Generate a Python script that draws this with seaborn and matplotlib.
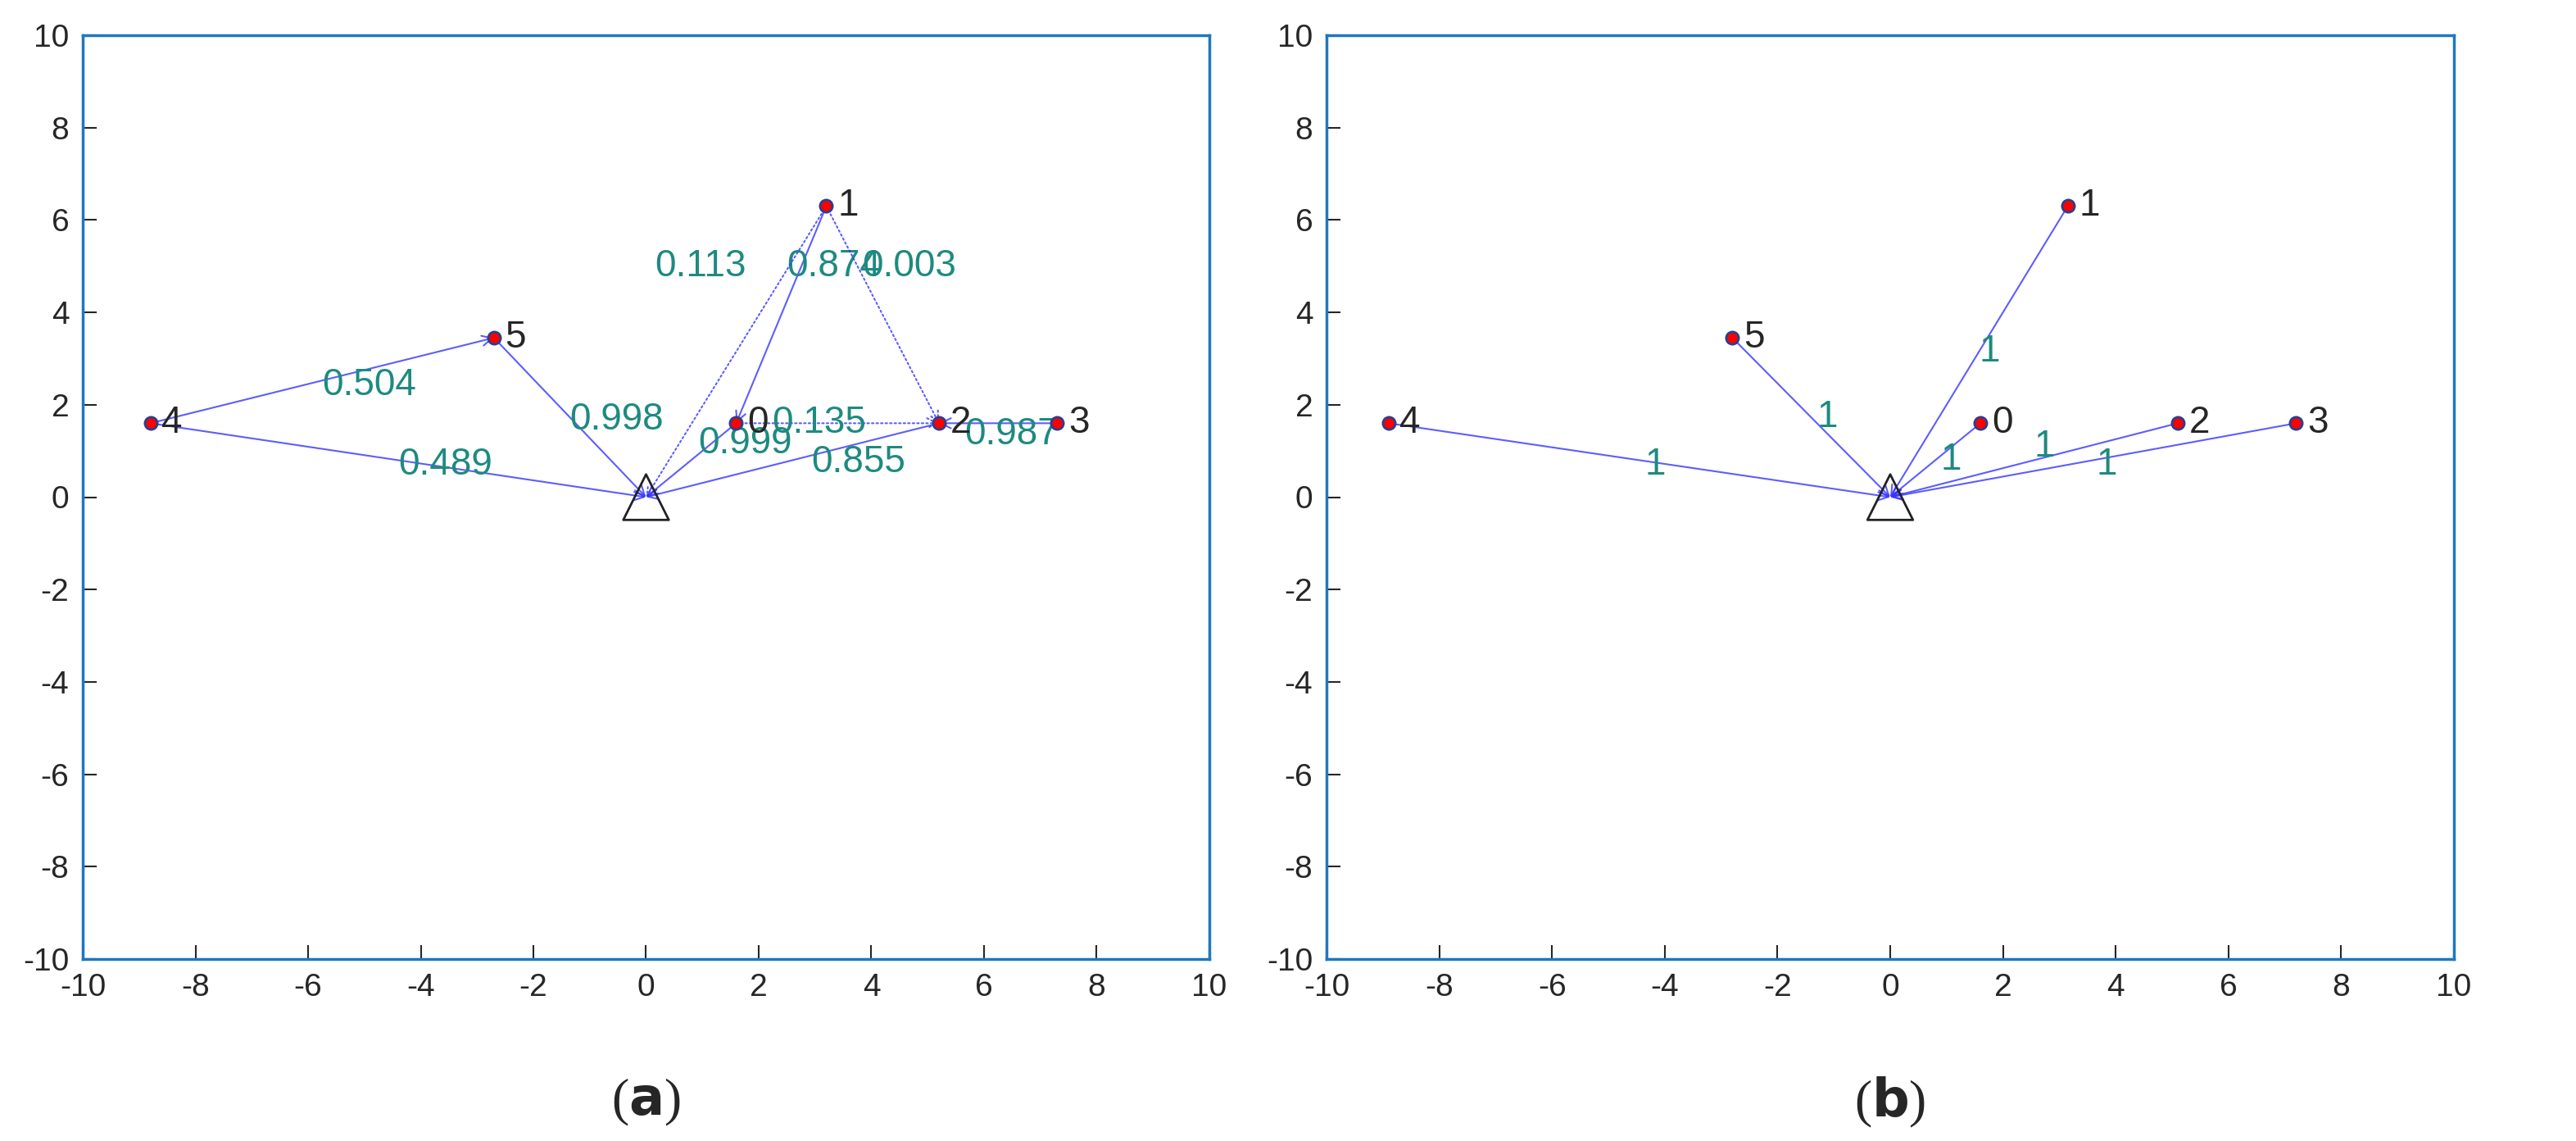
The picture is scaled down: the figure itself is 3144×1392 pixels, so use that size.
import matplotlib
matplotlib.use("Agg")
import matplotlib.pyplot as plt
import pandas as pd
import seaborn as sns

sns.set_style("ticks")
plt.rcParams['font.family'] = ['Liberation Sans', 'DejaVu Sans']
plt.rcParams['axes.unicode_minus'] = False

# node positions, panel (a) and panel (b)
node_ids = [0, 1, 2, 3, 4, 5]
x_a = [1.6, 3.2, 5.2, 7.3, -8.8, -2.7]
y_a = [1.6, 6.3, 1.6, 1.6, 1.6, 3.45]
x_b = [1.6, 3.15, 5.1, 7.2, -8.9, -2.8]
y_b = [1.6, 6.3, 1.6, 1.6, 1.6, 3.45]

# edges: source, target ('s' = sink), weight label, dotted?
src_a = [4, 4, 5, 0, 1, 2, 3, 1, 1, 0]
dst_a = [5, 's', 's', 's', 0, 's', 2, 's', 2, 2]
lab_a = ['0.504', '0.489', '0.998', '0.999', '0.874', '0.855', '0.987', '0.113', '0.003', '0.135']
dot_a = [False, False, False, False, False, False, False, True, True, True]
# label nudges from the edge midpoint (layout only)
off_a = [(0, -0.1), (0, -0.1), (0, -0.05), (0.13, 0.37), (0.1, 1.05),
         (0.33, -0.05), (-0.6, -0.25), (-1.44, 1.85), (-0.37, 1.05), (-1.17, 0)]

src_b = [4, 5, 1, 0, 2, 3]
dst_b = ['s', 's', 's', 's', 's', 's']
lab_b = ['1', '1', '1', '1', '1', '1']
dot_b = [False] * 6
off_b = [(0.1, -0.1), (0.1, 0), (0, 0), (0.1, 0), (0, 0.3), (0.05, -0.1)]

ticks = list(range(-10, 11, 2))
edge_col = '#3535ff'
text_col = '#1e8a80'
spine_col = '#1f77c0'


def draw_panel(ax, xs, ys, src, dst, labs, dots, offs, caption):
    pos = {n: (x, y) for n, x, y in zip(node_ids, xs, ys)}
    pos['s'] = (0.0, 0.0)
    for s, d, lab, dotted, (dx, dy) in zip(src, dst, labs, dots, offs):
        (x0, y0), (x1, y1) = pos[s], pos[d]
        ax.annotate('', xy=(x1, y1), xytext=(x0, y0),
                    arrowprops=dict(arrowstyle='->', color=edge_col, lw=1.5,
                                    alpha=0.8, mutation_scale=22,
                                    linestyle=':' if dotted else '-',
                                    shrinkA=0, shrinkB=0))
        ax.text((x0 + x1) / 2 + dx, (y0 + y1) / 2 + dy, lab, color=text_col,
                fontsize=33, ha='left', va='center')
    df = pd.DataFrame({'x': xs, 'y': ys, 'id': node_ids})
    sns.scatterplot(data=df, x='x', y='y', ax=ax, color='red', s=120,
                    edgecolor='#2a3f8f', linewidth=2, zorder=5)
    for _, r in df.iterrows():
        ax.text(r.x + 0.2, r.y, str(int(r.id)), fontsize=33, va='center', ha='left')
    ax.scatter([0], [0], marker='^', s=1600, facecolor='none',
               edgecolor='#222222', linewidth=2, zorder=6)
    ax.set_xlim(-10, 10)
    ax.set_ylim(-10, 10)
    ax.set_xticks(ticks)
    ax.set_yticks(ticks)
    ax.tick_params(direction='in', length=12, width=1.5, labelsize=28,
                   labelcolor='#262626', top=False, right=False, pad=12)
    for sp in ax.spines.values():
        sp.set_color(spine_col)
        sp.set_linewidth(2.5)
    ax.set_xlabel('')
    ax.set_ylabel('')
    ax.text(0.5, -0.155, caption, transform=ax.transAxes, ha='center', va='center',
            fontsize=46, family='Liberation Serif')


fig = plt.figure(figsize=(31.44, 13.92), dpi=100)
ax1 = fig.add_axes([101 / 3144, 1 - 1170 / 1392, 1375 / 3144, 1127 / 1392])
ax2 = fig.add_axes([1619 / 3144, 1 - 1170 / 1392, 1376 / 3144, 1127 / 1392])
draw_panel(ax1, x_a, y_a, src_a, dst_a, lab_a, dot_a, off_a, r'($\mathbf{a}$)')
draw_panel(ax2, x_b, y_b, src_b, dst_b, lab_b, dot_b, off_b, r'($\mathbf{b}$)')
fig.savefig('out.png', dpi=100)
